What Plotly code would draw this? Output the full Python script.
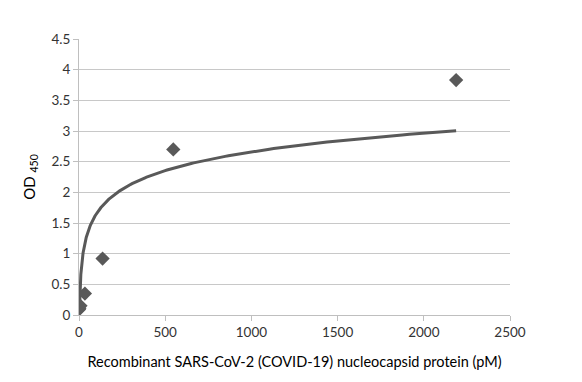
import numpy as np
import plotly.graph_objects as go

# measured points
conc_pm = [0.0, 2.1, 8.5, 34.2, 136.7, 546.9, 2187.5]
od450 = [0.09, 0.11, 0.15, 0.35, 0.92, 2.70, 3.83]

# logarithmic trendline y = a*ln(x) + b (coefficients)
trend_a = 0.44
trend_b = -0.38
trend_x_min = 3.0
trend_x_max = 2187.5

x_ticks = [0, 500, 1000, 1500, 2000, 2500]
y_ticks = [0, 0.5, 1, 1.5, 2, 2.5, 3, 3.5, 4, 4.5]
y_tick_labels = ["0", "0.5", "1", "1.5", "2", "2.5", "3", "3.5", "4", "4.5"]

tx = np.geomspace(trend_x_min, trend_x_max, 300)
ty = trend_a * np.log(tx) + trend_b

fig = go.Figure()
fig.add_trace(go.Scatter(x=tx, y=ty, mode="lines",
                         line=dict(color="#595959", width=3), showlegend=False,
                         hoverinfo="skip"))
fig.add_trace(go.Scatter(x=conc_pm, y=od450, mode="markers",
                         marker=dict(symbol="diamond", size=11, color="#595959"),
                         showlegend=False))

font = dict(family="Lato, Open Sans, sans-serif", size=14, color="#333333")
fig.update_layout(
    width=574, height=374,
    margin=dict(l=71, r=72, t=31, b=67),
    paper_bgcolor="white", plot_bgcolor="white",
    font=font,
    xaxis=dict(range=[0, 2500], tickvals=x_ticks, ticktext=[str(v) for v in x_ticks],
               showgrid=False, zeroline=False, showline=True, linecolor="#bfbfbf",
               linewidth=1, ticks="outside", ticklen=5, tickcolor="#bfbfbf",
               tickfont=dict(size=13.5, color="#333333"),
               title=dict(text="Recombinant SARS-CoV-2 (COVID-19) nucleocapsid protein (pM)",
                          font=dict(size=14.5, color="#000000"), standoff=17)),
    yaxis=dict(range=[0, 4.5], tickvals=y_ticks, ticktext=y_tick_labels,
               showgrid=True, gridcolor="#c8c8c8", gridwidth=1, zeroline=False,
               showline=True, linecolor="#bfbfbf", linewidth=1,
               ticks="outside", ticklen=5, tickcolor="#bfbfbf",
               tickfont=dict(size=13.5, color="#333333"),
               title=dict(text="OD <sub>450</sub>", font=dict(size=15, color="#000000"),
                          standoff=12)),
)
fig.write_html("out.html")
